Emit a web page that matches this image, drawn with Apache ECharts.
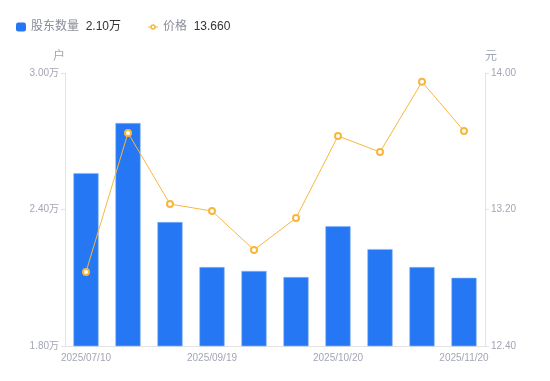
<!DOCTYPE html>
<html>
<head>
<meta charset="utf-8">
<script src="https://cdn.jsdelivr.net/npm/echarts@6/dist/echarts.min.js"></script>
<style>
    html, body { margin: 0; padding: 0; background: #fff; }
    #main { width: 550px; height: 381px; }
</style>
</head>
<body>
<div id="main"></div>
<script>
// 日期
var dates = ['2025/07/10', '2025/07/31', '2025/08/29', '2025/09/19', '2025/09/30',
    '2025/10/10', '2025/10/20', '2025/10/31', '2025/11/10', '2025/11/20'];
// 股东数量(万户)
var holders = [2.56, 2.78, 2.345, 2.147, 2.13, 2.103, 2.327, 2.226, 2.147, 2.10];
// 价格(元)
var prices = [12.834, 13.649, 13.232, 13.191, 12.963, 13.150, 13.631, 13.537, 13.948, 13.660];
var priceTicks = [12.40, 13.20, 14.00];

var font = '"Liberation Sans", "Noto Sans CJK SC", sans-serif';
var gray = '#a3a6b4';
var barColor = '#2677f4';
var lineColor = '#f7b73f';
// 图例里的折线图标: 两段短线 + 空心圆
var lineIcon = 'path://M0,4.4H2.4V5.6H0Z M7.6,4.4H10V5.6H7.6Z ' +
    'M7.8,5A2.8,2.8 0 1,1 2.2,5A2.8,2.8 0 1,1 7.8,5Z ' +
    'M6.3,5A1.3,1.3 0 1,0 3.7,5A1.3,1.3 0 1,0 6.3,5Z';

var myChart = echarts.init(document.getElementById('main'));

var option = {
    animation: false,
    textStyle: { fontFamily: font },
    legend: {
        left: 16,
        top: 21,
        padding: 0,
        itemWidth: 10,
        itemHeight: 9,
        itemGap: 27,
        formatter: function (name) {
            if (name == '股东数量') {
                return '{n|' + name + '}  {v|' + holders[holders.length - 1].toFixed(2) + '万}';
            }
            return '{n|' + name + '}  {v|' + prices[prices.length - 1].toFixed(3) + '}';
        },
        textStyle: {
            rich: {
                n: { color: '#8a8c99', fontSize: 12, fontFamily: font },
                v: { color: '#333', fontSize: 12, fontFamily: font }
            }
        },
        data: [
            { name: '股东数量', icon: 'roundRect', itemStyle: { color: barColor, borderWidth: 0 } },
            { name: '价格', icon: lineIcon, itemStyle: { color: lineColor, borderWidth: 0 } }
        ]
    },
    grid: { left: 65, right: 65, top: 73, bottom: 35 },
    xAxis: {
        type: 'category',
        data: dates,
        axisLine: { lineStyle: { color: '#e3e3e3' } },
        axisTick: { show: false },
        axisLabel: { color: gray, fontSize: 10, margin: 7, interval: 2 }
    },
    yAxis: [
        {
            type: 'value',
            name: '户',
            nameGap: 10,
            nameTextStyle: { color: gray, fontSize: 12, padding: [0, 12, 0, 0] },
            min: 1.8,
            max: 3.0,
            interval: 0.6,
            axisLine: { show: true, lineStyle: { color: '#e3e3e3' } },
            axisTick: { show: true, length: 4, lineStyle: { color: '#e3e3e3' } },
            splitLine: { show: false },
            axisLabel: {
                color: gray, fontSize: 10, margin: 6,
                formatter: function (v) { return v.toFixed(2) + '万'; }
            }
        },
        {
            type: 'value',
            name: '元',
            nameGap: 10,
            nameTextStyle: { color: gray, fontSize: 12, padding: [0, 0, 0, 12] },
            min: 12.4,
            max: 14.0,
            position: 'right',
            axisLine: { show: true, lineStyle: { color: '#e3e3e3' } },
            axisTick: { show: true, length: 4, customValues: priceTicks, lineStyle: { color: '#e3e3e3' } },
            splitLine: { show: false },
            axisLabel: {
                color: gray, fontSize: 10, margin: 6, customValues: priceTicks,
                formatter: function (v) { return v.toFixed(2); }
            }
        }
    ],
    series: [
        {
            name: '股东数量',
            type: 'bar',
            data: holders,
            barWidth: '60%',
            itemStyle: { color: barColor, borderColor: '#8ab8fb', borderWidth: 0.6 }
        },
        {
            name: '价格',
            type: 'line',
            yAxisIndex: 1,
            data: prices,
            symbol: 'emptyCircle',
            symbolSize: 6,
            lineStyle: { color: lineColor, width: 1 },
            itemStyle: { color: lineColor, borderWidth: 2 }
        }
    ]
};
myChart.setOption(option);
</script>
</body>
</html>
